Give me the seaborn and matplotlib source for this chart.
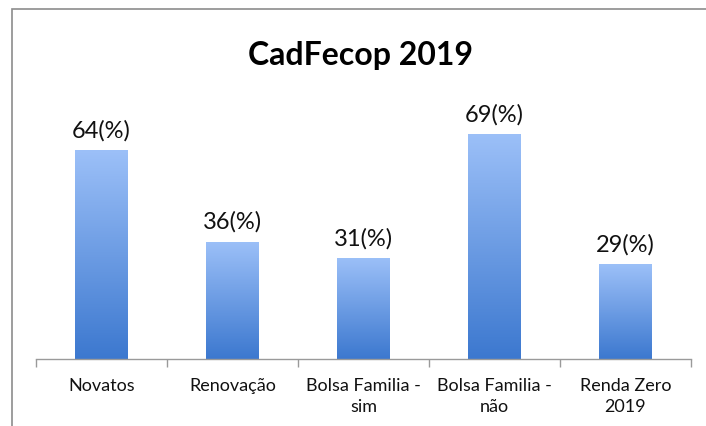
import matplotlib
matplotlib.use("Agg")
import matplotlib.pyplot as plt
import seaborn as sns
import numpy as np
import pandas as pd
from matplotlib.patches import Rectangle
from matplotlib.colors import LinearSegmentedColormap

categories = ["Novatos", "Renovação", "Bolsa Familia -\nsim", "Bolsa Familia -\nnão", "Renda Zero\n2019"]
values = [64, 36, 31, 69, 29]
labels = ["64(%)", "36(%)", "31(%)", "69(%)", "29(%)"]
title = "CadFecop 2019"

sns.set_theme(style="white")
plt.rcParams['font.family'] = ['Lato', 'DejaVu Sans']

fig = plt.figure(figsize=(7.06, 4.27), dpi=100)
ax = fig.add_axes([36/706, 1-360/427, (691-36)/706, (360-99)/427])

df = pd.DataFrame({"cat": categories, "val": values})
sns.barplot(data=df, x="cat", y="val", ax=ax, width=0.4, color="#5b8fdc", saturation=1)

cmap = LinearSegmentedColormap.from_list("g", ["#3c78cf", "#9cc0f8"])
grad = np.linspace(0, 1, 256).reshape(-1, 1)
for p, lab in zip(ax.patches, labels):
    x0, y0 = p.get_x(), p.get_y()
    w, h = p.get_width(), p.get_height()
    im = ax.imshow(grad, extent=[x0, x0 + w, y0, y0 + h], origin="lower",
                   cmap=cmap, aspect="auto", zorder=p.get_zorder())
    im.set_clip_path(p)
    p.set_facecolor("none")
    p.set_edgecolor("none")
    ax.annotate(lab, (x0 + w / 2, y0 + h), xytext=(0, 7), textcoords="offset points",
                ha="center", va="bottom", fontsize=17, color="#111111")

ax.set_xlim(-0.5, len(categories) - 0.5)
ax.set_ylim(0, 80)
ax.set_xlabel("")
ax.set_ylabel("")
ax.set_yticks([])
for s in ["top", "right", "left"]:
    ax.spines[s].set_visible(False)
ax.spines["bottom"].set_color("#9a9a9a")
ax.spines["bottom"].set_linewidth(1)
ax.set_xticks(np.arange(-0.5, len(categories)), minor=True)
ax.tick_params(axis="x", which="minor", length=6, width=1, color="#9a9a9a", direction="out", bottom=True)
ax.tick_params(axis="x", which="major", length=0, pad=13, labelsize=13, labelcolor="#111111")
ax.set_xticks(range(len(categories)))
ax.set_xticklabels(categories, linespacing=1.4)

fig.text(360/706, 1-55/427, title, ha="center", va="center", fontsize=23, fontweight="bold", color="#000000")

fig.patches.append(Rectangle((12/706, -0.05), 1.0, 1-10/427 + 0.05, transform=fig.transFigure,
                             fill=False, edgecolor="#8c8c8c", linewidth=1.2))

fig.savefig("out.png", dpi=100)
